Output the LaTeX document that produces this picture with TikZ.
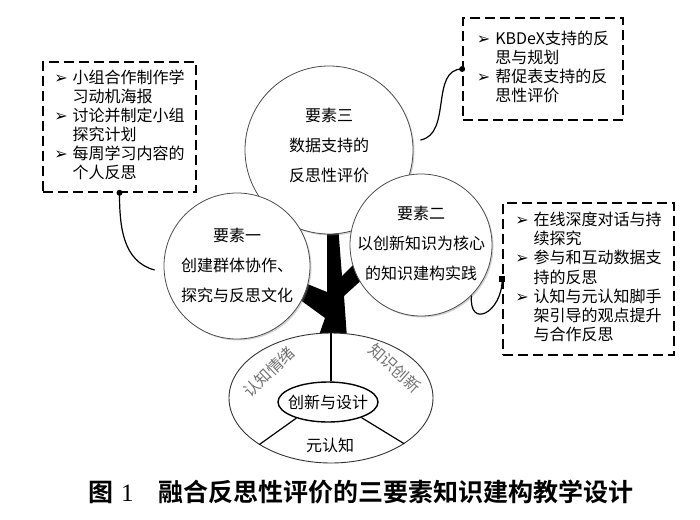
\documentclass[tikz,border=0pt]{standalone}
\usepackage{fontspec}
\setmainfont{Noto Sans CJK SC}[BoldFont={Noto Sans CJK SC Bold}]
\newfontfamily\symb{DejaVu Sans}
\newfontfamily\numfont{Liberation Serif}
\usetikzlibrary{shadows,shapes.geometric}

\newcommand{\bul}{{\symb\fontsize{16}{16}\selectfont ➢}}

\begin{document}
\begin{tikzpicture}[x=1pt,y=-1pt,
    elem/.style={circle,draw=black!70,fill=white,line width=0.8pt,inner sep=0pt,
                 drop shadow={shadow xshift=1.5pt,shadow yshift=-1.5pt,opacity=0.35}},
    elemtext/.style={align=center,font=\fontsize{16}{30}\selectfont},
    note/.style={draw,dash pattern=on 10pt off 5pt,line width=1.6pt,inner sep=0pt,
                 font=\fontsize{16}{18.8}\selectfont},
    ring/.style={font=\fontsize{16}{16}\selectfont},
    conn/.style={line width=1.2pt}]

  \useasboundingbox (0,0) rectangle (700,519);

  % trunk with two branches
  \fill (327,225) -- (327,292) -- (300,281) -- (299,299) -- (325,318) -- (318,338)
     -- (347,338) -- (344,296) -- (366,276) -- (360,258) -- (342,276) -- (338,225) -- cycle;

  % the three elements
  \foreach \n/\x/\y/\d/\dy/\t in {3/329/150/168/-5/{要素三\\数据支持的\\反思性评价},
                                  1/237/266/146/-1/{要素一\\创建群体协作、\\探究与反思文化},
                                  2/421/245/142/-2/{要素二\\以创新知识为核心\\的知识建构实践}} {
    \node[elem,minimum size=\d pt] (e\n) at (\x,\y) {};
    \node[elemtext] (t\n) at (\x,\y+\dy) {\t};
  }

  % root
  \node[ellipse,draw=black!80,fill=white,line width=0.9pt,minimum width=204pt,
        minimum height=130pt,inner sep=0pt] (base) at (331,398) {};
  \node[ellipse,draw,fill=white,line width=1.4pt,minimum width=100pt,
        minimum height=40pt,inner sep=0pt] (core) at (328,402) {};
  \node[ring] (coretext) at (core) {创新与设计};
  \draw[line width=1.2pt] (base.north) -- (base.north |- core.north);
  \draw[line width=1.2pt] (core.207) -- (base.213);
  \draw[line width=1.2pt] (core.335) -- (base.328);
  \node[ring,text=black!55,rotate=44] (emo) at (269,372) {认知情绪};
  \node[ring,text=black!55,rotate=-42] (inno) at (395,368) {知识创新};
  \node[ring] (meta) at (330,445) {元认知};

  % activity boxes
  \node[note,minimum width=153pt,minimum height=130pt] (lbox) at (119.5,127) {%
    \begin{tabular}{@{}l@{\hspace{5pt}}l@{}}
      \bul & 小组合作制作学\\ & 习动机海报\\
      \bul & 讨论并制定小组\\ & 探究计划\\
      \bul & 每周学习内容的\\ & 个人反思
    \end{tabular}};
  \node[note,minimum width=160pt,minimum height=102pt] (trbox) at (543,69) {%
    \begin{tabular}{@{}l@{\hspace{5pt}}l@{}}
      \bul & KBDeX支持的反\\ & 思与规划\\
      \bul & 帮促表支持的反\\ & 思性评价
    \end{tabular}};
  \node[note,minimum width=171pt,minimum height=152pt] (rbox) at (588.5,279) {%
    \begin{tabular}{@{}l@{\hspace{5pt}}l@{}}
      \bul & 在线深度对话与持\\ & 续探究\\
      \bul & 参与和互动数据支\\ & 持的反思\\
      \bul & 认知与元认知脚手\\ & 架引导的观点提升\\ & 与合作反思
    \end{tabular}};

  % connectors
  \draw[conn] (lbox.south) to[out=-90,in=165] ([shift={(-9,4)}]e1.west);
  \fill (lbox.south) circle (3pt);
  \draw[conn] ([shift={(7,-10)}]e3.east) to[out=10,in=180] (trbox.west);
  \fill (trbox.west) circle (3pt);
  \draw[conn] (e2.south east) to[out=-95,in=-90,looseness=2.5] (rbox.west);
  \fill (rbox.west) ++(-3,-3) rectangle ++(6,6);

  \node[font=\bfseries\fontsize{25}{25}\selectfont] (cap) at (361,492)
    {图\hspace{0.3em}{\numfont\mdseries 1}\hspace{1em}融合反思性评价的三要素知识建构教学设计};
\end{tikzpicture}
\end{document}
